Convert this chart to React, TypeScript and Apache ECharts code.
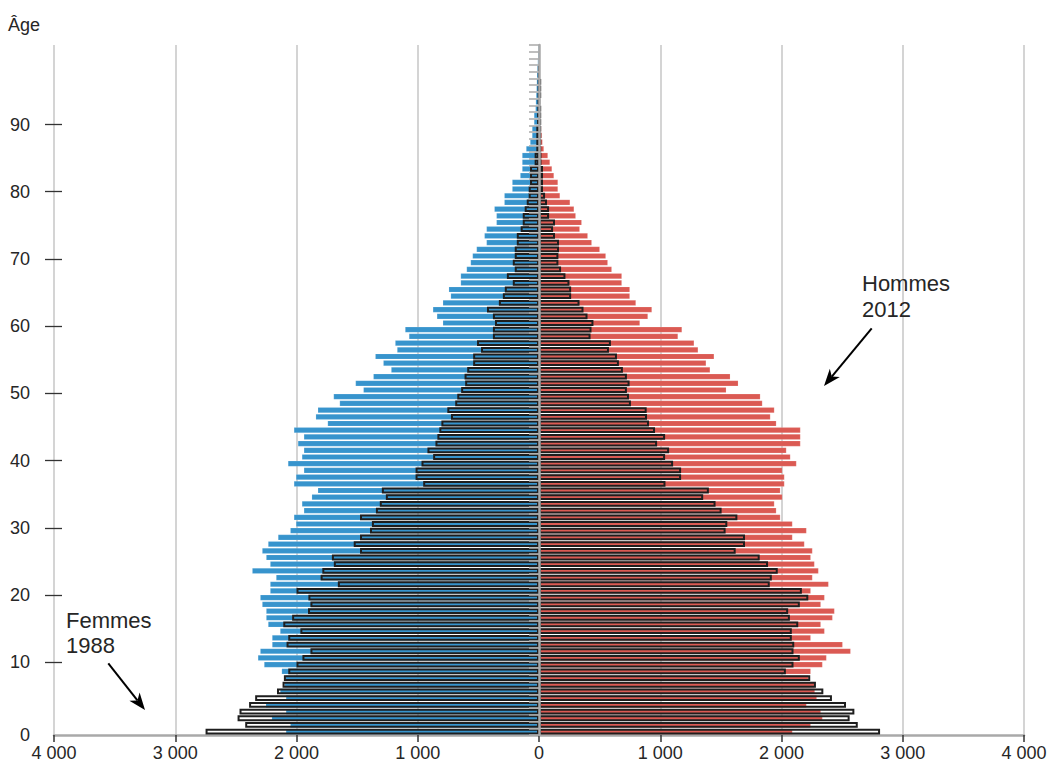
import React, { useEffect, useRef } from "react";
import * as echarts from "echarts";

// Age categories (0 at bottom)
const ages: string[] = Array.from({ length: 103 }, (_, i) => String(i));

// Population by single year of age (units as on the axis)
const femmes2012 = [
  2088, 2052, 2205, 2088, 2254, 2088, 2136, 2100, 2095, 2123,
  2268, 2319, 2300, 2202, 2202, 2136, 2235, 2251, 2251, 2284,
  2300, 2218, 2218, 2169, 2366, 2218, 2251, 2284, 2235, 2153,
  2052, 2005, 2022, 1940, 1956, 1875, 1825, 2022, 2005, 1940,
  2071, 1956, 1940, 1989, 1940, 2022, 1744, 1842, 1825, 1645,
  1695, 1449, 1514, 1367, 1220, 1285, 1351, 1171, 1187, 1073,
  1105, 794, 843, 876, 794, 729, 745, 647, 647, 598,
  565, 549, 516, 434, 451, 434, 352, 352, 369, 287,
  287, 222, 222, 156, 140, 140, 140, 107, 74, 58,
  58, 42, 42, 30, 28, 25, 22, 20, 18, 15,
  12, 10, 8,
];

const hommes2012 = [
  2091, 2242, 2339, 2325, 2207, 2292, 2276, 2276, 2223, 2242,
  2339, 2372, 2571, 2505, 2242, 2356, 2325, 2422, 2438, 2325,
  2356, 2242, 2389, 2256, 2306, 2273, 2242, 2256, 2190, 2091,
  2207, 2091, 1991, 1958, 1942, 2008, 1991, 2025, 2025, 2008,
  2124, 2074, 2041, 2157, 2157, 2157, 1958, 1909, 1942, 1843,
  1826, 1545, 1644, 1578, 1412, 1379, 1445, 1313, 1280, 1147,
  1180, 833, 899, 932, 800, 750, 750, 684, 684, 601,
  568, 552, 502, 436, 403, 337, 353, 304, 290, 257,
  174, 157, 157, 124, 108, 91, 74, 41, 30, 25,
  20, 15, 12, 10, 8, 6, 5, 4, 3, 2,
  2, 1, 1,
];

const femmes1988 = [
  2750, 2423, 2486, 2470, 2391, 2341, 2161, 2115, 2104, 2068,
  2000, 1951, 1885, 2082, 2068, 1968, 2109, 2036, 1905, 1885,
  1902, 2000, 1659, 1801, 1787, 1692, 1708, 1476, 1528, 1476,
  1394, 1378, 1476, 1345, 1313, 1263, 1296, 955, 1018, 1018,
  969, 873, 920, 854, 838, 822, 805, 726, 756, 691,
  674, 642, 609, 614, 592, 543, 543, 478, 511, 380,
  380, 363, 380, 429, 331, 298, 282, 216, 265, 200,
  216, 200, 200, 183, 183, 151, 134, 134, 118, 101,
  85, 85, 74, 74, 74, 36, 36, 22, 22, 22,
  22, 15, 15, 10, 8, 6, 5, 4, 3, 2,
  0, 0, 0,
];

const hommes1988 = [
  2813, 2629, 2562, 2601, 2532, 2416, 2345, 2284, 2237, 2036,
  2099, 2151, 2099, 2105, 2085, 2085, 2138, 2069, 2055, 2151,
  2221, 2168, 1903, 1920, 1969, 1889, 1820, 1622, 1699, 1699,
  1539, 1553, 1636, 1506, 1456, 1354, 1401, 1043, 1172, 1172,
  1106, 1040, 1073, 974, 1040, 957, 907, 891, 888, 758,
  742, 725, 747, 725, 692, 659, 643, 577, 593, 425,
  433, 449, 400, 367, 334, 265, 265, 251, 218, 182,
  160, 160, 165, 165, 132, 116, 132, 83, 83, 66,
  50, 33, 33, 33, 33, 20, 20, 18, 18, 18,
  18, 18, 18, 18, 5, 18, 18, 18, 0, 0,
  0, 0, 0,
];

const ageTickValues = [10, 20, 30, 40, 50, 60, 70, 80, 90];
const xMin = -4000;
const xMax = 4000;
const xStep = 1000;

const FONT = '"Liberation Sans", Arial, Helvetica, sans-serif';
const BLUE = "#3794cd";
const RED = "#db5a53";
const TEXT = "#262626";

function fmtThousands(v: number): string {
  const a = Math.abs(v);
  const s = String(a);
  if (a < 1000) return s;
  return s.slice(0, s.length - 3) + " " + s.slice(-3);
}

function arrowHead(x1: number, y1: number, x2: number, y2: number, len: number, half: number) {
  const dx = x2 - x1;
  const dy = y2 - y1;
  const L = Math.sqrt(dx * dx + dy * dy);
  const ux = dx / L;
  const uy = dy / L;
  const nx = -uy;
  const ny = ux;
  const bx = x2 - ux * len;
  const by = y2 - uy * len;
  const mx = x2 - ux * len * 0.72;
  const my = y2 - uy * len * 0.72;
  return {
    points: [
      [x2, y2],
      [bx + nx * half, by + ny * half],
      [mx, my],
      [bx - nx * half, by - ny * half],
    ],
    neck: [mx, my],
  };
}

function arrow(x1: number, y1: number, x2: number, y2: number) {
  const h = arrowHead(x1, y1, x2, y2, 17, 6.5);
  return [
    {
      type: "line",
      shape: { x1, y1, x2: h.neck[0], y2: h.neck[1] },
      style: { stroke: "#000", lineWidth: 2 },
      z: 50,
    },
    {
      type: "polygon",
      shape: { points: h.points },
      style: { fill: "#000" },
      z: 50,
    },
  ];
}

export default function App() {
  const ref = useRef<HTMLDivElement>(null);

  useEffect(() => {
    if (!ref.current) return;
    const chart = echarts.init(ref.current, undefined, { renderer: "svg" });

    const barCommon = {
      type: "bar",
      barGap: "-100%",
      barWidth: 5.8,
      xAxisIndex: 0,
      yAxisIndex: 0,
    };

    const option = {
      animation: false,
      backgroundColor: "#ffffff",
      textStyle: { fontFamily: FONT },
      grid: { left: 54, right: 27, top: 45, bottom: 28, containLabel: false },
      xAxis: {
        type: "value",
        min: xMin,
        max: xMax,
        interval: xStep,
        axisLine: { show: true, onZero: false, lineStyle: { color: "#a9a9a9", width: 2.5 } },
        axisTick: { show: true, length: 7, lineStyle: { color: "#333", width: 1.5 } },
        axisLabel: {
          formatter: fmtThousands,
          color: TEXT,
          fontSize: 18,
          margin: 9,
          fontFamily: FONT,
        },
        splitLine: { show: true, lineStyle: { color: "#d4d4d4", width: 2 } },
      },
      yAxis: [
        {
          type: "category",
          data: ages,
          z: 6,
          axisLine: { show: true, onZero: true, lineStyle: { color: "#a9a9a9", width: 2.5 } },
          axisTick: { show: true, length: 10, interval: 0, lineStyle: { color: "#a9a9a9", width: 1.5 } },
          axisLabel: { show: false },
          splitLine: { show: false },
        },
        {
          type: "value",
          min: -0.815,
          max: 101.83,
          position: "left",
          offset: -8,
          axisLine: { show: false },
          axisTick: {
            show: true,
            length: 17,
            customValues: ageTickValues,
            lineStyle: { color: "#333", width: 1.3 },
          },
          axisLabel: {
            customValues: ageTickValues,
            color: TEXT,
            fontSize: 18,
            margin: 32,
            fontFamily: FONT,
          },
          splitLine: { show: false },
        },
      ],
      series: [
        {
          ...barCommon,
          name: "Femmes 2012",
          data: femmes2012.map((v) => -v),
          itemStyle: { color: BLUE, borderColor: "rgba(255,255,255,0.25)", borderWidth: 0.6 },
          z: 2,
        },
        {
          ...barCommon,
          name: "Hommes 2012",
          data: hommes2012,
          itemStyle: { color: RED, borderColor: "rgba(255,255,255,0.25)", borderWidth: 0.6 },
          z: 2,
        },
        {
          ...barCommon,
          name: "Femmes 1988",
          data: femmes1988.map((v) => (v ? -v : "-")),
          itemStyle: { color: "rgba(0,0,0,0)", borderColor: "#1e1e1e", borderWidth: 2 },
          z: 3,
        },
        {
          ...barCommon,
          name: "Hommes 1988",
          data: hommes1988.map((v) => (v ? v : "-")),
          itemStyle: { color: "rgba(0,0,0,0)", borderColor: "#1e1e1e", borderWidth: 2 },
          z: 3,
        },
      ],
      graphic: [
        {
          type: "text",
          x: 8,
          y: 25,
          style: { text: "Âge", fontSize: 18, fontFamily: FONT, fill: TEXT, verticalAlign: "middle" },
          z: 50,
        },
        {
          type: "text",
          x: 30,
          y: 735,
          style: { text: "0", fontSize: 18, fontFamily: FONT, fill: TEXT, align: "right", verticalAlign: "middle" },
          z: 50,
        },
        {
          type: "text",
          x: 862,
          y: 270,
          style: {
            text: "Hommes\n2012",
            fontSize: 22,
            lineHeight: 26,
            fontFamily: FONT,
            fill: TEXT,
            verticalAlign: "top",
          },
          z: 50,
        },
        {
          type: "text",
          x: 66,
          y: 608,
          style: {
            text: "Femmes\n1988",
            fontSize: 22,
            lineHeight: 25,
            fontFamily: FONT,
            fill: TEXT,
            verticalAlign: "top",
          },
          z: 50,
        },
        ...arrow(871.7, 328.3, 824, 386),
        ...arrow(108.3, 663.3, 145, 710),
      ],
    };

    chart.setOption(option as any);
    return () => {
      chart.dispose();
    };
  }, []);

  return (
    <div
      ref={ref}
      style={{ position: "fixed", left: 0, top: 0, width: 1051, height: 763, background: "#fff" }}
    />
  );
}
